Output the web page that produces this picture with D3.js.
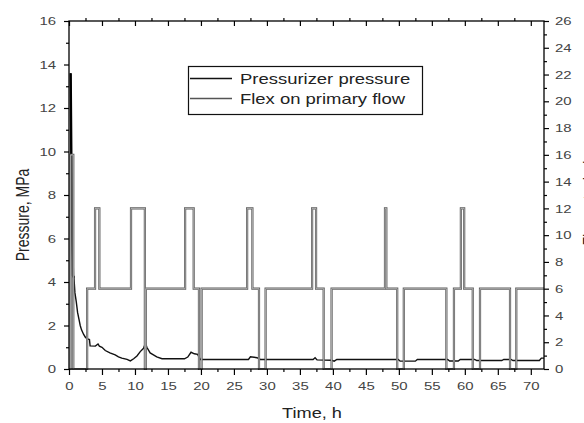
<!DOCTYPE html>
<html>
<head>
<meta charset="utf-8">
<script src="https://cdn.jsdelivr.net/npm/d3@7"></script>
<style>
  body { margin: 0; background: #fff; }
  svg { display: block; font-family: "Liberation Sans", Arial, sans-serif; }
</style>
</head>
<body>
<div id="chart"></div>
<script>
// Pressurizer pressure, MPa (left axis) : [time h, value]
const pressureTime = [0.25, 0.35, 0.5, 0.6, 0.75, 0.9, 1.1, 1.3, 1.5, 1.7, 1.9, 2.2, 2.5, 2.8, 3.1, 3.2, 4.0, 4.4, 4.6, 5.0, 5.5, 6.2, 7.0, 7.5, 8.0, 8.8, 9.3, 9.8, 10.3, 10.8, 11.3, 11.6, 11.8, 12.3, 12.8, 13.3, 14.1, 17.5, 18.0, 18.5, 19.0, 19.5, 19.9, 27.2, 27.5, 28.5, 29.0, 37.0, 37.3, 37.6, 39.8, 40.2, 40.6, 49.9, 50.2, 52.5, 52.8, 57.4, 57.7, 59.0, 59.3, 61.5, 61.8, 65.6, 65.9, 67.0, 67.3, 71.3, 71.6, 72];
const pressureValue = [13.6, 9.8, 6.0, 4.3, 4.2, 3.5, 3.1, 2.6, 2.3, 2.0, 1.8, 1.6, 1.45, 1.38, 1.35, 1.06, 1.05, 1.15, 1.05, 1.0, 0.85, 0.74, 0.65, 0.56, 0.5, 0.44, 0.37, 0.47, 0.6, 0.8, 0.95, 1.2, 1.0, 0.74, 0.65, 0.56, 0.47, 0.47, 0.55, 0.77, 0.7, 0.67, 0.44, 0.44, 0.56, 0.52, 0.44, 0.44, 0.52, 0.42, 0.4, 0.36, 0.44, 0.44, 0.36, 0.36, 0.44, 0.44, 0.37, 0.37, 0.44, 0.44, 0.39, 0.39, 0.44, 0.44, 0.39, 0.39, 0.5, 0.5];

// Flex on primary flow (right axis), step signal : [switch time h, new value]
const flowTime = [0, 0.25, 0.65, 2.75, 3.95, 4.6, 9.4, 11.5, 11.65, 17.6, 18.9, 19.7, 20.1, 27.0, 27.8, 28.8, 29.8, 36.85, 37.45, 38.6, 39.8, 47.9, 48.1, 49.75, 50.75, 57.2, 58.35, 59.4, 59.9, 61.2, 62.3, 66.85, 67.8, 72];
const flowValue = [0, 16, 0, 6, 12, 6, 12, 0, 6, 12, 6, 0, 6, 12, 6, 0, 6, 12, 6, 0, 6, 12, 6, 0, 6, 0, 6, 12, 6, 0, 6, 0, 6, 6];

const xTicks = d3.range(0, 72.01, 2.5);
const leftTicks = d3.range(0, 16.01, 1);
const rightTicks = d3.range(0, 26.01, 1);
const seriesNames = ["Pressurizer pressure", "Flex on primary flow"];

const W = 584, H = 423;
const plot = { left: 69, right: 544, top: 21, bottom: 369 };
const SX = 1.3; // glyphs in the reference are stretched horizontally

const svg = d3.select("#chart").append("svg")
    .attr("width", W)
    .attr("height", H);

const x = d3.scaleLinear().domain([0, 72]).range([plot.left, plot.right]);
const yL = d3.scaleLinear().domain([0, 16]).range([plot.bottom, plot.top]);
const yR = d3.scaleLinear().domain([0, 26]).range([plot.bottom, plot.top]);

const pressure = pressureTime.map((t, i) => [t, pressureValue[i]]);
const flow = flowTime.map((t, i) => [t, flowValue[i]]);

// Pressure line
svg.append("path")
    .datum(pressure)
    .attr("fill", "none")
    .attr("stroke", "#111")
    .attr("stroke-width", 1.4)
    .attr("d", d3.line().x(d => x(d[0])).y(d => yL(d[1])));

// thicker initial drop
svg.append("path")
    .datum(pressure.slice(0, 5))
    .attr("fill", "none")
    .attr("stroke", "#000")
    .attr("stroke-width", 2.4)
    .attr("d", d3.line().x(d => x(d[0])).y(d => yL(d[1])));

// Flow step line (grey outlined look)
const flowLine = d3.line().curve(d3.curveStepAfter).x(d => x(d[0])).y(d => yR(d[1]));
svg.append("path")
    .datum(flow)
    .attr("fill", "none")
    .attr("stroke", "#5a5a5a")
    .attr("stroke-width", 2.2)
    .attr("d", flowLine);
svg.append("path")
    .datum(flow)
    .attr("fill", "none")
    .attr("stroke", "#d0d0d0")
    .attr("stroke-width", 0.7)
    .attr("d", flowLine);

// Axes
function styleAxis(g, major, len) {
    g.select(".domain").remove();
    g.selectAll(".tick line")
        .attr("stroke", "#000")
        .attr("stroke-width", 1.2);
    g.selectAll(".tick").filter(d => !major(d)).select("line").each(function () {
        const l = d3.select(this);
        if (l.attr("x2") !== null && +l.attr("x2") !== 0) l.attr("x2", Math.sign(+l.attr("x2")) * len);
        if (l.attr("y2") !== null && +l.attr("y2") !== 0) l.attr("y2", Math.sign(+l.attr("y2")) * len);
    });
    g.selectAll(".tick text")
        .attr("fill", "#444")
        .style("font-size", "11.5px")
        .attr("transform", "scale(" + SX + ",1)");
}

svg.append("g")
    .attr("transform", "translate(0," + plot.bottom + ")")
    .call(d3.axisBottom(x).tickValues(xTicks).tickSize(6).tickPadding(7)
        .tickFormat(d => d % 5 === 0 ? d : ""))
    .call(g => styleAxis(g, d => d % 5 === 0, 3));

svg.append("g")
    .attr("transform", "translate(0," + plot.top + ")")
    .call(d3.axisTop(x).tickValues(xTicks).tickSize(-5).tickFormat(""))
    .call(g => styleAxis(g, d => d % 5 === 0, -3));

svg.append("g")
    .attr("transform", "translate(" + plot.left + ",0)")
    .call(d3.axisLeft(yL).tickValues(leftTicks).tickSize(5).tickPadding(5)
        .tickFormat(d => d % 2 === 0 ? d : ""))
    .call(g => styleAxis(g, d => d % 2 === 0, 3));

svg.append("g")
    .attr("transform", "translate(" + plot.right + ",0)")
    .call(d3.axisRight(yR).tickValues(rightTicks).tickSize(5).tickPadding(3.5)
        .tickFormat(d => d % 2 === 0 ? d : ""))
    .call(g => styleAxis(g, d => d % 2 === 0, 3));

// Frame
svg.append("rect")
    .attr("x", plot.left)
    .attr("y", plot.top)
    .attr("width", plot.right - plot.left)
    .attr("height", plot.bottom - plot.top)
    .attr("fill", "none")
    .attr("stroke", "#000")
    .attr("stroke-width", 1.3);

// Axis titles
svg.append("text")
    .attr("transform", "translate(" + 312 + ",418) scale(" + SX + ",1)")
    .attr("text-anchor", "middle")
    .attr("fill", "#222")
    .style("font-size", "14px")
    .text("Time, h");

svg.append("text")
    .attr("transform", "translate(29,215) scale(" + SX + ",1) rotate(-90)")
    .attr("text-anchor", "middle")
    .attr("fill", "#222")
    .style("font-size", "14px")
    .text("Pressure, MPa");

// right-hand title, cut off by the picture edge as in the reference
svg.append("text")
    .attr("transform", "translate(596,200) scale(" + SX + ",1) rotate(-90)")
    .attr("text-anchor", "middle")
    .attr("fill", "#222")
    .style("font-size", "14px")
    .text("Flow rate, kg/s");

// Legend
const legend = svg.append("g");
legend.append("rect")
    .attr("x", 188.5)
    .attr("y", 66.5)
    .attr("width", 234)
    .attr("height", 48)
    .attr("fill", "#fff")
    .attr("stroke", "#111")
    .attr("stroke-width", 1.2);

const legendColors = ["#111", "#555"];
seriesNames.forEach((name, i) => {
    const yy = 78.5 + i * 20;
    legend.append("line")
        .attr("x1", 190).attr("x2", 232)
        .attr("y1", yy).attr("y2", yy)
        .attr("stroke", legendColors[i])
        .attr("stroke-width", 1.3);
    legend.append("text")
        .attr("transform", "translate(240," + (yy + 5) + ") scale(" + SX + ",1)")
        .attr("fill", "#222")
        .style("font-size", "14.2px")
        .text(name);
});
</script>
</body>
</html>
